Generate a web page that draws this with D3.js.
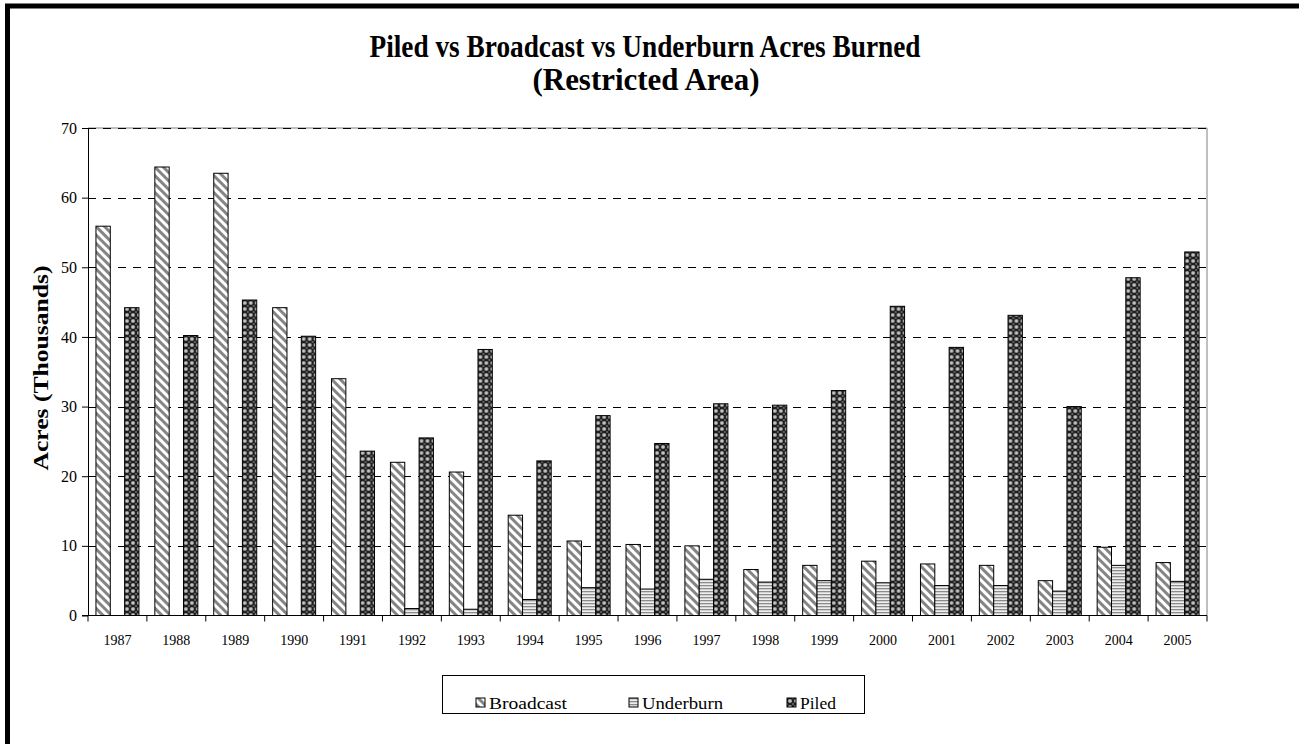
<!DOCTYPE html>
<html>
<head>
<meta charset="utf-8">
<script src="https://cdn.jsdelivr.net/npm/d3@7"></script>
<style>
    body { margin: 0; background: #fff; }
    svg { display: block; }
</style>
</head>
<body>
<div id="chart"></div>
<script>
const years = ["1987", "1988", "1989", "1990", "1991", "1992", "1993", "1994", "1995", "1996",
    "1997", "1998", "1999", "2000", "2001", "2002", "2003", "2004", "2005"];
const seriesNames = ["Broadcast", "Underburn", "Piled"];
const broadcast = [55.9, 64.4, 63.5, 44.2, 34.0, 22.0, 20.6, 14.4, 10.7, 10.2,
    10.0, 6.6, 7.2, 7.8, 7.4, 7.2, 5.0, 9.8, 7.6];
const underburn = [0, 0, 0, 0, 0, 1.0, 0.9, 2.3, 4.0, 3.8,
    5.2, 4.8, 5.0, 4.7, 4.3, 4.3, 3.5, 7.2, 4.9];
const piled = [44.2, 40.2, 45.3, 40.1, 23.6, 25.5, 38.2, 22.2, 28.7, 24.7,
    30.4, 30.2, 32.3, 44.4, 38.5, 43.1, 30.0, 48.5, 52.2];
const yTicks = [0, 10, 20, 30, 40, 50, 60, 70];

const FONT = "'Liberation Serif', 'Times New Roman', 'DejaVu Serif', serif";
const width = 1299, height = 744;
const plot = { left: 88, right: 1207, top: 128, bottom: 615.5 };

const svg = d3.select("#chart").append("svg")
    .attr("width", width)
    .attr("height", height)
    .attr("font-family", FONT);

//patterns
const defs = svg.append("defs");

const pBroad = defs.append("pattern")
    .attr("id", "pat-broadcast")
    .attr("patternUnits", "userSpaceOnUse")
    .attr("width", 6).attr("height", 6)
    .attr("patternTransform", "rotate(-45)");
pBroad.append("rect").attr("width", 6).attr("height", 6).attr("fill", "#fff");
pBroad.append("rect").attr("x", 0).attr("width", 3).attr("height", 6).attr("fill", "#858585");

const pUnder = defs.append("pattern")
    .attr("id", "pat-underburn")
    .attr("patternUnits", "userSpaceOnUse")
    .attr("width", 4).attr("height", 3);
pUnder.append("rect").attr("width", 4).attr("height", 3).attr("fill", "#eeeeee");
pUnder.append("rect").attr("y", 0).attr("width", 4).attr("height", 1.3).attr("fill", "#8c8c8c");

const pPiled = defs.append("pattern")
    .attr("id", "pat-piled")
    .attr("patternUnits", "userSpaceOnUse")
    .attr("width", 6).attr("height", 6);
pPiled.append("rect").attr("width", 6).attr("height", 6).attr("fill", "#1e1e1e");
pPiled.append("circle").attr("cx", 3).attr("cy", 3).attr("r", 2.1).attr("fill", "#a0a0a0");
pPiled.append("circle").attr("cx", 3).attr("cy", 3).attr("r", 0.8).attr("fill", "#f0f0f0");
[[0, 0], [6, 0], [0, 6], [6, 6]].forEach(([cx, cy]) => {
    pPiled.append("circle").attr("cx", cx).attr("cy", cy).attr("r", 1.1).attr("fill", "#6a6a6a");
});

const fills = {
    Broadcast: "url(#pat-broadcast)",
    Underburn: "url(#pat-underburn)",
    Piled: "url(#pat-piled)"
};

//outer border
svg.append("rect")
    .attr("x", 7.5).attr("y", 6)
    .attr("width", width + 50).attr("height", height + 50)
    .attr("fill", "none")
    .attr("stroke", "#000")
    .attr("stroke-width", 5);

//title
const title = svg.append("g").attr("font-weight", "bold").attr("text-anchor", "middle");
title.append("text")
    .attr("x", 645).attr("y", 57)
    .attr("font-size", 31)
    .attr("textLength", 551)
    .attr("lengthAdjust", "spacingAndGlyphs")
    .text("Piled vs Broadcast vs Underburn Acres Burned");
title.append("text")
    .attr("x", 646).attr("y", 90)
    .attr("font-size", 31)
    .attr("textLength", 227)
    .attr("lengthAdjust", "spacingAndGlyphs")
    .text("(Restricted Area)");

//scales
const x0 = d3.scaleBand()
    .domain(years)
    .range([plot.left, plot.right]);

const bw = x0.bandwidth();
const x1 = d3.scaleBand()
    .domain(seriesNames)
    .range([bw * 0.135, bw * 0.865]);

const y = d3.scaleLinear()
    .domain([0, 70])
    .range([plot.bottom, plot.top]);

//plot area border (top and right)
svg.append("path")
    .attr("d", `M${plot.left},${plot.top}H${plot.right}V${plot.bottom}`)
    .attr("fill", "none")
    .attr("stroke", "#808080")
    .attr("stroke-width", 1);

//gridlines
svg.append("g")
    .selectAll("line")
    .data(yTicks.filter(d => d > 0))
    .join("line")
    .attr("x1", plot.left)
    .attr("x2", plot.right)
    .attr("y1", d => Math.round(y(d)) + 0.5)
    .attr("y2", d => Math.round(y(d)) + 0.5)
    .attr("stroke", "#000")
    .attr("stroke-width", 1)
    .attr("stroke-dasharray", "8,7");

//bars
const table = years.map((yr, i) => ({
    year: yr,
    values: [
        { key: "Broadcast", value: broadcast[i] },
        { key: "Underburn", value: underburn[i] },
        { key: "Piled", value: piled[i] }
    ]
}));

svg.append("g")
    .selectAll("g")
    .data(table)
    .join("g")
    .attr("transform", d => `translate(${x0(d.year)},0)`)
    .selectAll("rect")
    .data(d => d.values.filter(v => v.value > 0))
    .join("rect")
    .attr("x", d => x1(d.key))
    .attr("y", d => y(d.value))
    .attr("width", x1.bandwidth())
    .attr("height", d => y(0) - y(d.value))
    .attr("fill", d => fills[d.key])
    .attr("stroke", "#000")
    .attr("stroke-width", 1);

//y axis
const yAxis = d3.axisLeft(y)
    .tickValues(yTicks)
    .tickSize(6)
    .tickSizeOuter(0)
    .tickPadding(5);

const gy = svg.append("g")
    .attr("transform", `translate(${plot.left},0)`)
    .call(yAxis)
    .attr("font-family", FONT)
    .attr("font-size", 16);
gy.selectAll("text").attr("fill", "#000");
gy.selectAll("line, path").attr("stroke", "#000");

//x axis
const gx = svg.append("g")
    .attr("transform", `translate(0,${plot.bottom})`);
gx.append("line")
    .attr("x1", plot.left - 6).attr("x2", plot.right)
    .attr("stroke", "#000");
gx.selectAll(".tick-line")
    .data([...years.map(d => x0(d)), plot.right])
    .join("line")
    .attr("class", "tick-line")
    .attr("x1", d => d).attr("x2", d => d)
    .attr("y1", 0).attr("y2", 6)
    .attr("stroke", "#000");
gx.selectAll("text")
    .data(years)
    .join("text")
    .attr("x", d => x0(d) + bw / 2)
    .attr("y", 29)
    .attr("text-anchor", "middle")
    .attr("font-size", 14)
    .text(d => d);

//y label
svg.append("text")
    .attr("transform", "translate(48,368) rotate(-90)")
    .attr("text-anchor", "middle")
    .attr("font-weight", "bold")
    .attr("font-size", 21)
    .attr("textLength", 205)
    .attr("lengthAdjust", "spacingAndGlyphs")
    .text("Acres (Thousands)");

//legend
const legend = svg.append("g");
legend.append("rect")
    .attr("x", 442.5).attr("y", 675.5)
    .attr("width", 422).attr("height", 38)
    .attr("fill", "#fff")
    .attr("stroke", "#000");

const legendX = [476, 629, 787];
const legendLen = [78, 81, 36];
const items = legend.selectAll("g")
    .data(seriesNames)
    .join("g")
    .attr("transform", (d, i) => `translate(${legendX[i]},698)`);
items.append("rect")
    .attr("width", 9).attr("height", 9)
    .attr("fill", d => fills[d])
    .attr("stroke", "#000");
items.append("text")
    .attr("x", 13).attr("y", 10.5)
    .attr("font-size", 17)
    .attr("textLength", (d, i) => legendLen[i])
    .attr("lengthAdjust", "spacingAndGlyphs")
    .text(d => d);
</script>
</body>
</html>
